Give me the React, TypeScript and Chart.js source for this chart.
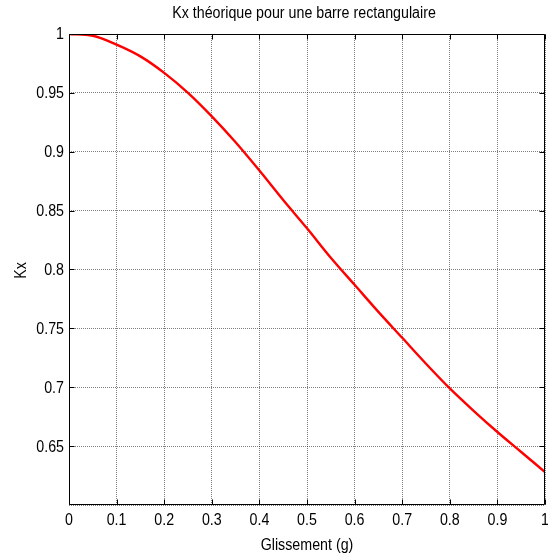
import { useEffect, useRef } from "react";
import { Chart, registerables } from "chart.js";

Chart.register(...registerables);

// Slip values (g) and the theoretical Kx factor for a rectangular bar
const glissement = [0, 0.05, 0.1, 0.15, 0.2, 0.25, 0.3, 0.35, 0.4, 0.45, 0.5, 0.55, 0.6, 0.65, 0.7, 0.75, 0.8, 0.85, 0.9, 0.95, 1.0];
const kx = [1.0, 0.9985, 0.991, 0.981, 0.967, 0.95, 0.93, 0.908, 0.884, 0.859, 0.835, 0.81, 0.787, 0.764, 0.742, 0.72, 0.699, 0.68, 0.662, 0.645, 0.628];

const xTickValues = [0, 0.1, 0.2, 0.3, 0.4, 0.5, 0.6, 0.7, 0.8, 0.9, 1];
const yTickValues = [0.65, 0.7, 0.75, 0.8, 0.85, 0.9, 0.95, 1];

const titleText = "Kx théorique pour une barre rectangulaire";
const xLabelText = "Glissement (g)";
const yLabelText = "Kx";

const FONT = '16px "Liberation Sans", Arial, Helvetica, sans-serif';
const SQUEEZE = 0.89;

function fmt(v: number): string {
  return String(Number(v.toFixed(2)));
}

function drawText(
  ctx: CanvasRenderingContext2D,
  text: string,
  x: number,
  y: number,
  align: CanvasTextAlign,
  rotate = 0
) {
  ctx.save();
  ctx.translate(x, y);
  if (rotate) ctx.rotate(rotate);
  ctx.scale(SQUEEZE, 1);
  ctx.font = FONT;
  ctx.fillStyle = "#000";
  ctx.textAlign = align;
  ctx.textBaseline = "middle";
  ctx.fillText(text, 0, 0);
  ctx.restore();
}

// Box, inward tick marks and all text in a plain plotting style
const framePlugin = {
  id: "frame",
  afterDraw(chart: any) {
    const ctx: CanvasRenderingContext2D = chart.ctx;
    const { left, right, top, bottom } = chart.chartArea;
    const xs = chart.scales.x;
    const ys = chart.scales.y;
    const L = Math.round(left) + 0.5;
    const R = Math.round(right) - 0.5;
    const T = Math.round(top) + 0.5;
    const B = Math.round(bottom) - 0.5;
    const tickLen = 5;

    ctx.save();
    ctx.strokeStyle = "#000";
    ctx.lineWidth = 1;
    ctx.beginPath();
    ctx.rect(L, T, R - L, B - T);
    ctx.stroke();

    ctx.beginPath();
    xTickValues.forEach((v) => {
      const px = Math.round(xs.getPixelForValue(v)) + 0.5;
      ctx.moveTo(px, B);
      ctx.lineTo(px, B - tickLen);
      ctx.moveTo(px, T);
      ctx.lineTo(px, T + tickLen);
    });
    yTickValues.forEach((v) => {
      const py = Math.round(ys.getPixelForValue(v)) + 0.5;
      ctx.moveTo(L, py);
      ctx.lineTo(L + tickLen, py);
      ctx.moveTo(R, py);
      ctx.lineTo(R - tickLen, py);
    });
    ctx.stroke();
    ctx.restore();

    xTickValues.forEach((v) => {
      drawText(ctx, fmt(v), xs.getPixelForValue(v), bottom + 16, "center");
    });
    yTickValues.forEach((v) => {
      drawText(ctx, fmt(v), left - 5, ys.getPixelForValue(v) + 1, "right");
    });

    const cx = (left + right) / 2;
    const cy = (top + bottom) / 2;
    drawText(ctx, titleText, cx - 3, 14, "center");
    drawText(ctx, xLabelText, cx, bottom + 41, "center");
    drawText(ctx, yLabelText, 22, cy + 1, "center", -Math.PI / 2);
  },
};

export default function App() {
  const canvasRef = useRef<HTMLCanvasElement | null>(null);

  useEffect(() => {
    if (!canvasRef.current) return;
    const chart = new Chart(canvasRef.current, {
      type: "line",
      data: {
        datasets: [
          {
            data: glissement.map((g, i) => ({ x: g, y: kx[i] })),
            borderColor: "#ff0000",
            borderWidth: 2.4,
            pointRadius: 0,
            cubicInterpolationMode: "monotone",
            fill: false,
          },
        ],
      },
      options: {
        animation: false,
        responsive: true,
        maintainAspectRatio: false,
        events: [],
        layout: { padding: { top: 34, right: 3, left: 0, bottom: 0 } },
        plugins: {
          legend: { display: false },
          tooltip: { enabled: false },
          title: { display: false },
        },
        scales: {
          x: {
            type: "linear",
            min: 0,
            max: 1,
            ticks: { stepSize: 0.1, display: false },
            grid: {
              color: "rgba(0,0,0,0.5)",
              lineWidth: 1,
              drawTicks: false,
            },
            border: { display: false, dash: [1, 1] },
            afterFit: (scale: any) => {
              scale.height = 52;
            },
          },
          y: {
            type: "linear",
            min: 0.6,
            max: 1,
            ticks: { stepSize: 0.05, display: false },
            grid: {
              color: "rgba(0,0,0,0.5)",
              lineWidth: 1,
              drawTicks: false,
            },
            border: { display: false, dash: [1, 1] },
            afterFit: (scale: any) => {
              scale.width = 69;
            },
          },
        },
      },
      plugins: [framePlugin],
    });
    return () => chart.destroy();
  }, []);

  return (
    <div style={{ position: "absolute", left: 0, top: 0, width: 548, height: 557, background: "#fff" }}>
      <canvas ref={canvasRef} />
    </div>
  );
}
